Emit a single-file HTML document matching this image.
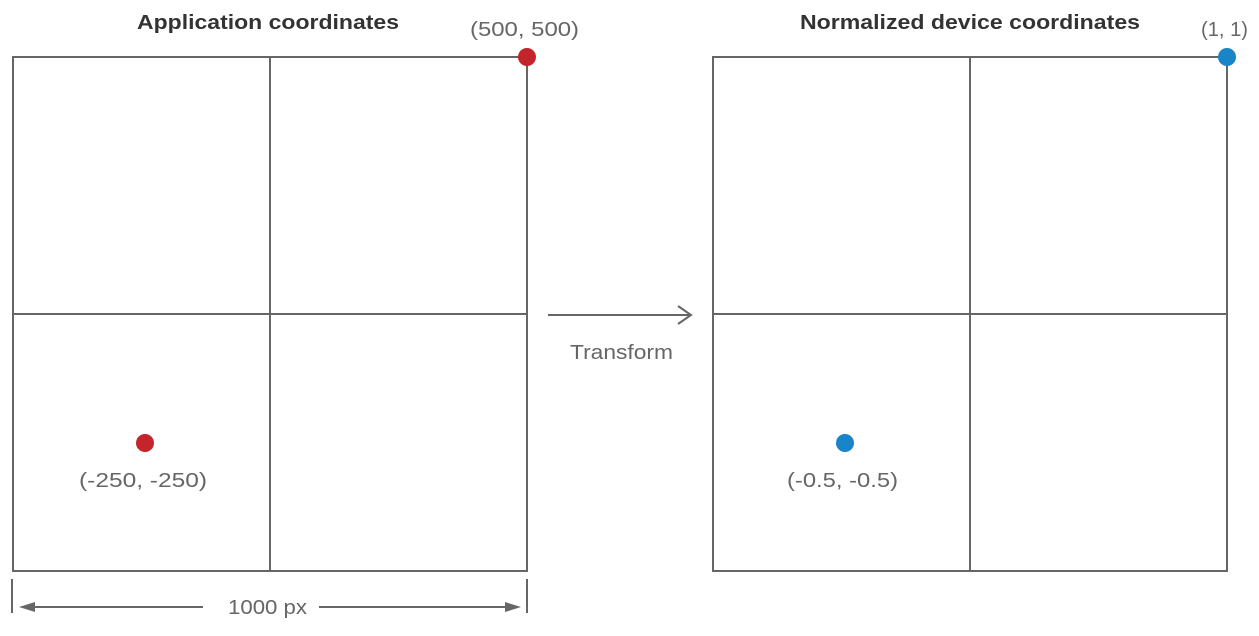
<!DOCTYPE html>
<html><head><style>body{margin:0;background:#fff}</style></head><body>
<svg width="1259" height="631" xmlns="http://www.w3.org/2000/svg" font-family="Liberation Sans, sans-serif">
<g fill="none" stroke="#666" stroke-width="2">
<rect x="13" y="57" width="514" height="514"/>
<line x1="270" y1="57" x2="270" y2="571"/>
<line x1="13" y1="314" x2="527" y2="314"/>
<rect x="713" y="57" width="514" height="514"/>
<line x1="970" y1="57" x2="970" y2="571"/>
<line x1="713" y1="314" x2="1227" y2="314"/>
<line x1="548" y1="315" x2="690" y2="315"/>
<polyline points="678,306 691,315 678,324"/>
<line x1="12" y1="579" x2="12" y2="613"/>
<line x1="527" y1="579" x2="527" y2="613"/>
<line x1="30" y1="607" x2="203" y2="607"/>
<line x1="319" y1="607" x2="510" y2="607"/>
</g>
<polygon points="19,607 35,602 35,612" fill="#666"/>
<polygon points="521,607 505,602 505,612" fill="#666"/>
<circle cx="527" cy="57" r="9" fill="#c4242b"/>
<circle cx="145" cy="443" r="9" fill="#c4242b"/>
<circle cx="1227" cy="57" r="9" fill="#1a84c8"/>
<circle cx="845" cy="443" r="9" fill="#1a84c8"/>
<g font-size="20" fill="#333" font-weight="bold" lengthAdjust="spacingAndGlyphs">
<text x="137" y="29" textLength="262" lengthAdjust="spacingAndGlyphs">Application coordinates</text>
<text x="800" y="29" textLength="340" lengthAdjust="spacingAndGlyphs">Normalized device coordinates</text>
</g>
<g font-size="20" fill="#666">
<text x="470" y="36" textLength="109" lengthAdjust="spacingAndGlyphs">(500, 500)</text>
<text x="1201" y="36" textLength="47" lengthAdjust="spacingAndGlyphs">(1, 1)</text>
<text x="79" y="487" textLength="128" lengthAdjust="spacingAndGlyphs">(-250, -250)</text>
<text x="787" y="487" textLength="111" lengthAdjust="spacingAndGlyphs">(-0.5, -0.5)</text>
<text x="570" y="359" textLength="103" lengthAdjust="spacingAndGlyphs">Transform</text>
<text x="228" y="614" textLength="79" lengthAdjust="spacingAndGlyphs">1000 px</text>
</g>
</svg>
</body></html>
